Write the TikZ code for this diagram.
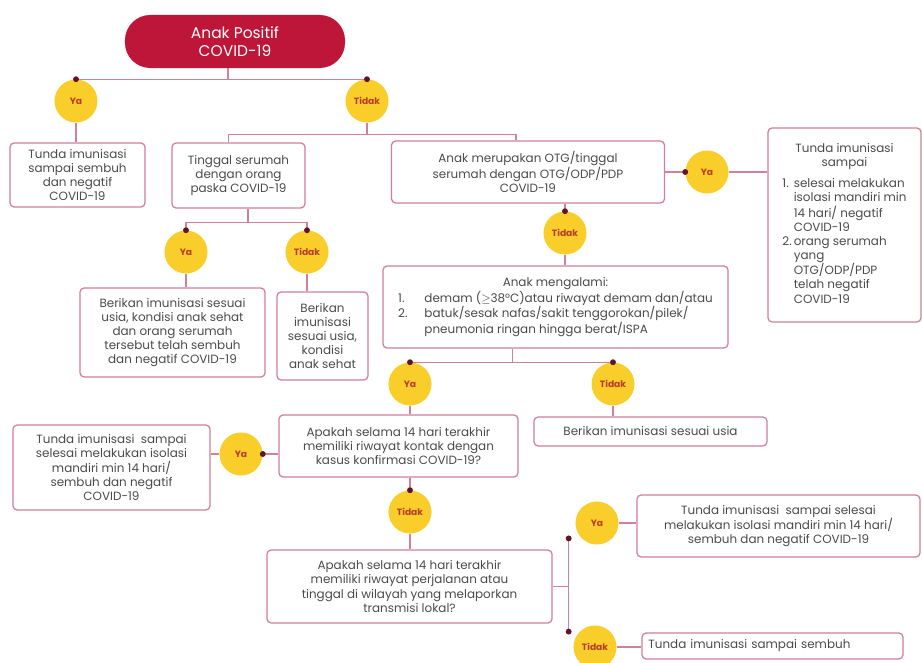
\documentclass[tikz,border=0pt]{standalone}
\usepackage{fontspec}
\setmainfont{Poppins}
\definecolor{linec}{RGB}{208,128,152}
\definecolor{crim}{RGB}{190,22,56}
\definecolor{gold}{RGB}{249,206,42}
\definecolor{labc}{RGB}{185,60,40}
\definecolor{dotc}{RGB}{95,20,40}
\definecolor{txt}{RGB}{75,75,75}
\begin{document}
\begin{tikzpicture}[x=0.025cm, y=-0.025cm,
  box/.style={draw=linec, line width=0.9pt, rounded corners=3pt, fill=white, text=txt, align=center, inner sep=2pt, font=\fontsize{8.5}{10}\selectfont},
  pill/.style={fill=crim, text=white, rounded corners=18pt, align=center, font=\fontsize{11}{13}\selectfont},
  choice/.style={circle, fill=gold, text=labc, inner sep=0pt, minimum size=1.075cm, font=\fontsize{6.5}{7}\selectfont\bfseries},
  link/.style={draw=linec, line width=0.9pt}]

\useasboundingbox (0,0) rectangle (922,663);
\fill[white] (0,0) rectangle (922,663);

\node[pill, minimum width=5.5cm, minimum height=1.325cm] (start) at (235,41.5) {Anak Positif\\COVID-19};

\node[choice] (ya1) at (76,101) {Ya};
\node[choice] (tidak1) at (367,101) {Tidak};
\node[box, minimum width=3.375cm, minimum height=1.6cm] (a1) at (77.5,175) {Tunda imunisasi\\sampai sembuh\\dan negatif\\COVID-19};
\node[box, minimum width=3.325cm, minimum height=1.625cm] (tg) at (238.5,175.5) {Tinggal serumah\\dengan orang\\paska COVID-19};
\node[box, minimum width=6.825cm, minimum height=1.55cm] (otg) at (528,172) {Anak merupakan OTG/tinggal\\serumah dengan OTG/ODP/PDP\\COVID-19};

\node[choice] (ya2) at (186,252) {Ya};
\node[choice] (tidak2) at (307,252) {Tidak};
\node[box, minimum width=4.625cm, minimum height=2.225cm] (c1) at (172.5,332.5) {Berikan imunisasi sesuai\\usia, kondisi anak sehat\\dan orang serumah\\tersebut telah sembuh\\dan negatif COVID-19};
\node[box, minimum width=2.275cm, minimum height=2.2cm] (c2) at (322.5,336) {Berikan\\imunisasi\\sesuai usia,\\kondisi\\anak sehat};

\node[choice] (ya3) at (707,172) {Ya};
\node[box, minimum width=3.825cm, minimum height=4.85cm] (r1) at (844.5,225) {\begin{tabular}{@{}l@{\,}l@{}}
\multicolumn{2}{@{}c@{}}{Tunda imunisasi}\\
\multicolumn{2}{@{}c@{}}{sampai}\\[5pt]
1.& selesai melakukan\\
 & isolasi mandiri min\\
 & 14 hari/ negatif\\
 & COVID-19\\
2.& orang serumah\\
 & yang\\
 & OTG/ODP/PDP\\
 & telah negatif\\
 & COVID-19
\end{tabular}};

\node[choice] (tidak3) at (565,233) {Tidak};
\node[box, minimum width=8.625cm, minimum height=2.05cm] (m) at (555.5,307) {\begin{tabular}{@{}l@{\hspace{12pt}}l@{}}
\multicolumn{2}{@{}c@{}}{Anak mengalami:}\\
1. & demam ($\geq$38°C)atau riwayat demam dan/atau\\
2. & batuk/sesak nafas/sakit tenggorokan/pilek/\\
 & pneumonia ringan hingga berat/ISPA
\end{tabular}};

\node[choice] (ya4) at (410,384) {Ya};
\node[choice] (tidak4) at (613,384) {Tidak};
\node[box, minimum width=5.975cm, minimum height=1.55cm] (p1) at (398.5,446) {Apakah selama 14 hari terakhir\\memiliki riwayat kontak dengan\\kasus konfirmasi COVID-19?};
\node[box, minimum width=5.825cm, minimum height=0.725cm] (bu) at (650.5,431.5) {Berikan imunisasi sesuai usia};

\node[choice] (ya5) at (241,454) {Ya};
\node[box, minimum width=4.925cm, minimum height=2.125cm] (lb) at (111.5,467.5) {Tunda imunisasi\ \ sampai\\selesai melakukan isolasi\\mandiri min 14 hari/\\sembuh dan negatif\\COVID-19};
\node[choice] (tidak5) at (410,512) {Tidak};
\node[box, minimum width=7.125cm, minimum height=1.825cm] (p2) at (409.5,586.5) {Apakah selama 14 hari terakhir\\memiliki riwayat perjalanan atau\\tinggal di wilayah yang melaporkan\\transmisi lokal?};

\node[choice] (ya6) at (597,523) {Ya};
\node[choice] (tidak6) at (595,647) {Tidak};
\node[box, minimum width=7.075cm, minimum height=1.55cm] (rt1) at (778.5,526) {Tunda imunisasi\ \ sampai selesai\\melakukan isolasi mandiri min 14 hari/\\sembuh dan negatif COVID-19};
\node[box, minimum width=6.525cm, minimum height=0.65cm, text width=6.2cm, align=left] (rt2) at (772.5,646) {Tunda imunisasi sampai sembuh};

\draw[link] ([xshift=-0.175cm]start.south) |- (ya1.north);
\draw[link] ([xshift=-0.175cm]start.south) |- (tidak1.north);
\draw[link] (ya1.south) -- (ya1.south |- a1.north);
\draw[link] (tidak1.south) -- ++(0,11.5) coordinate (bus2) -| ([xshift=-0.25cm]tg.north);
\draw[link] (bus2) -| ([xshift=-0.3cm]otg.north);
\draw[link] ([xshift=0.24cm]tg.south) -- ++(0,14) coordinate (bus3) -| (ya2.north);
\draw[link] (bus3) -| (tidak2.north);
\draw[link] (ya2.south) -- (ya2.south |- c1.north);
\draw[link] (tidak2.south) -- (tidak2.south |- c2.north);
\draw[link] (otg.east |- ya3) -- (ya3.west);
\draw[link] (ya3.east) -- (ya3.east -| r1.west);
\draw[link] (tidak3.north |- otg.south) -- (tidak3.north);
\draw[link] (tidak3.south) -- (tidak3.south |- m.north);
\draw[link] ([xshift=-1.075cm]m.south) |- (ya4.north);
\draw[link] ([xshift=-1.075cm]m.south) |- (tidak4.north);
\draw[link] (ya4.south) -- (ya4.south |- p1.north);
\draw[link] (tidak4.south) -- (tidak4.south |- bu.north);
\draw[link] (p1.west |- ya5) -- (ya5.east);
\draw[link] (ya5.west) -- (ya5.west -| lb.east);
\draw[link] (tidak5.north |- p1.south) -- (tidak5.north);
\draw[link] (tidak5.south) -- (tidak5.south |- p2.north);
\draw[link] (p2.east) -- ++(16,0) coordinate (sp);
\draw[link] (sp |- ya6.south west) -- (sp |- tidak6.north west);
\draw[link] (ya6.east) -- (ya6.east -| rt1.west);
\draw[link] (tidak6.east) -- (tidak6.east -| rt2.west);

\fill[dotc] (ya1.north) circle (2.1pt);
\fill[dotc] (tidak1.north) circle (2.1pt);
\fill[dotc] (ya2.north) circle (2.1pt);
\fill[dotc] (tidak2.north) circle (2.1pt);
\fill[dotc] (ya3.west) circle (2.1pt);
\fill[dotc] (tidak3.north) circle (2.1pt);
\fill[dotc] (ya4.north) circle (2.1pt);
\fill[dotc] (tidak4.north) circle (2.1pt);
\fill[dotc] (ya5.east) circle (2.1pt);
\fill[dotc] (tidak5.north) circle (2.1pt);
\fill[dotc] (sp |- ya6.south west) circle (2.1pt);
\fill[dotc] (sp |- tidak6.north west) circle (2.1pt);
\end{tikzpicture}
\end{document}
